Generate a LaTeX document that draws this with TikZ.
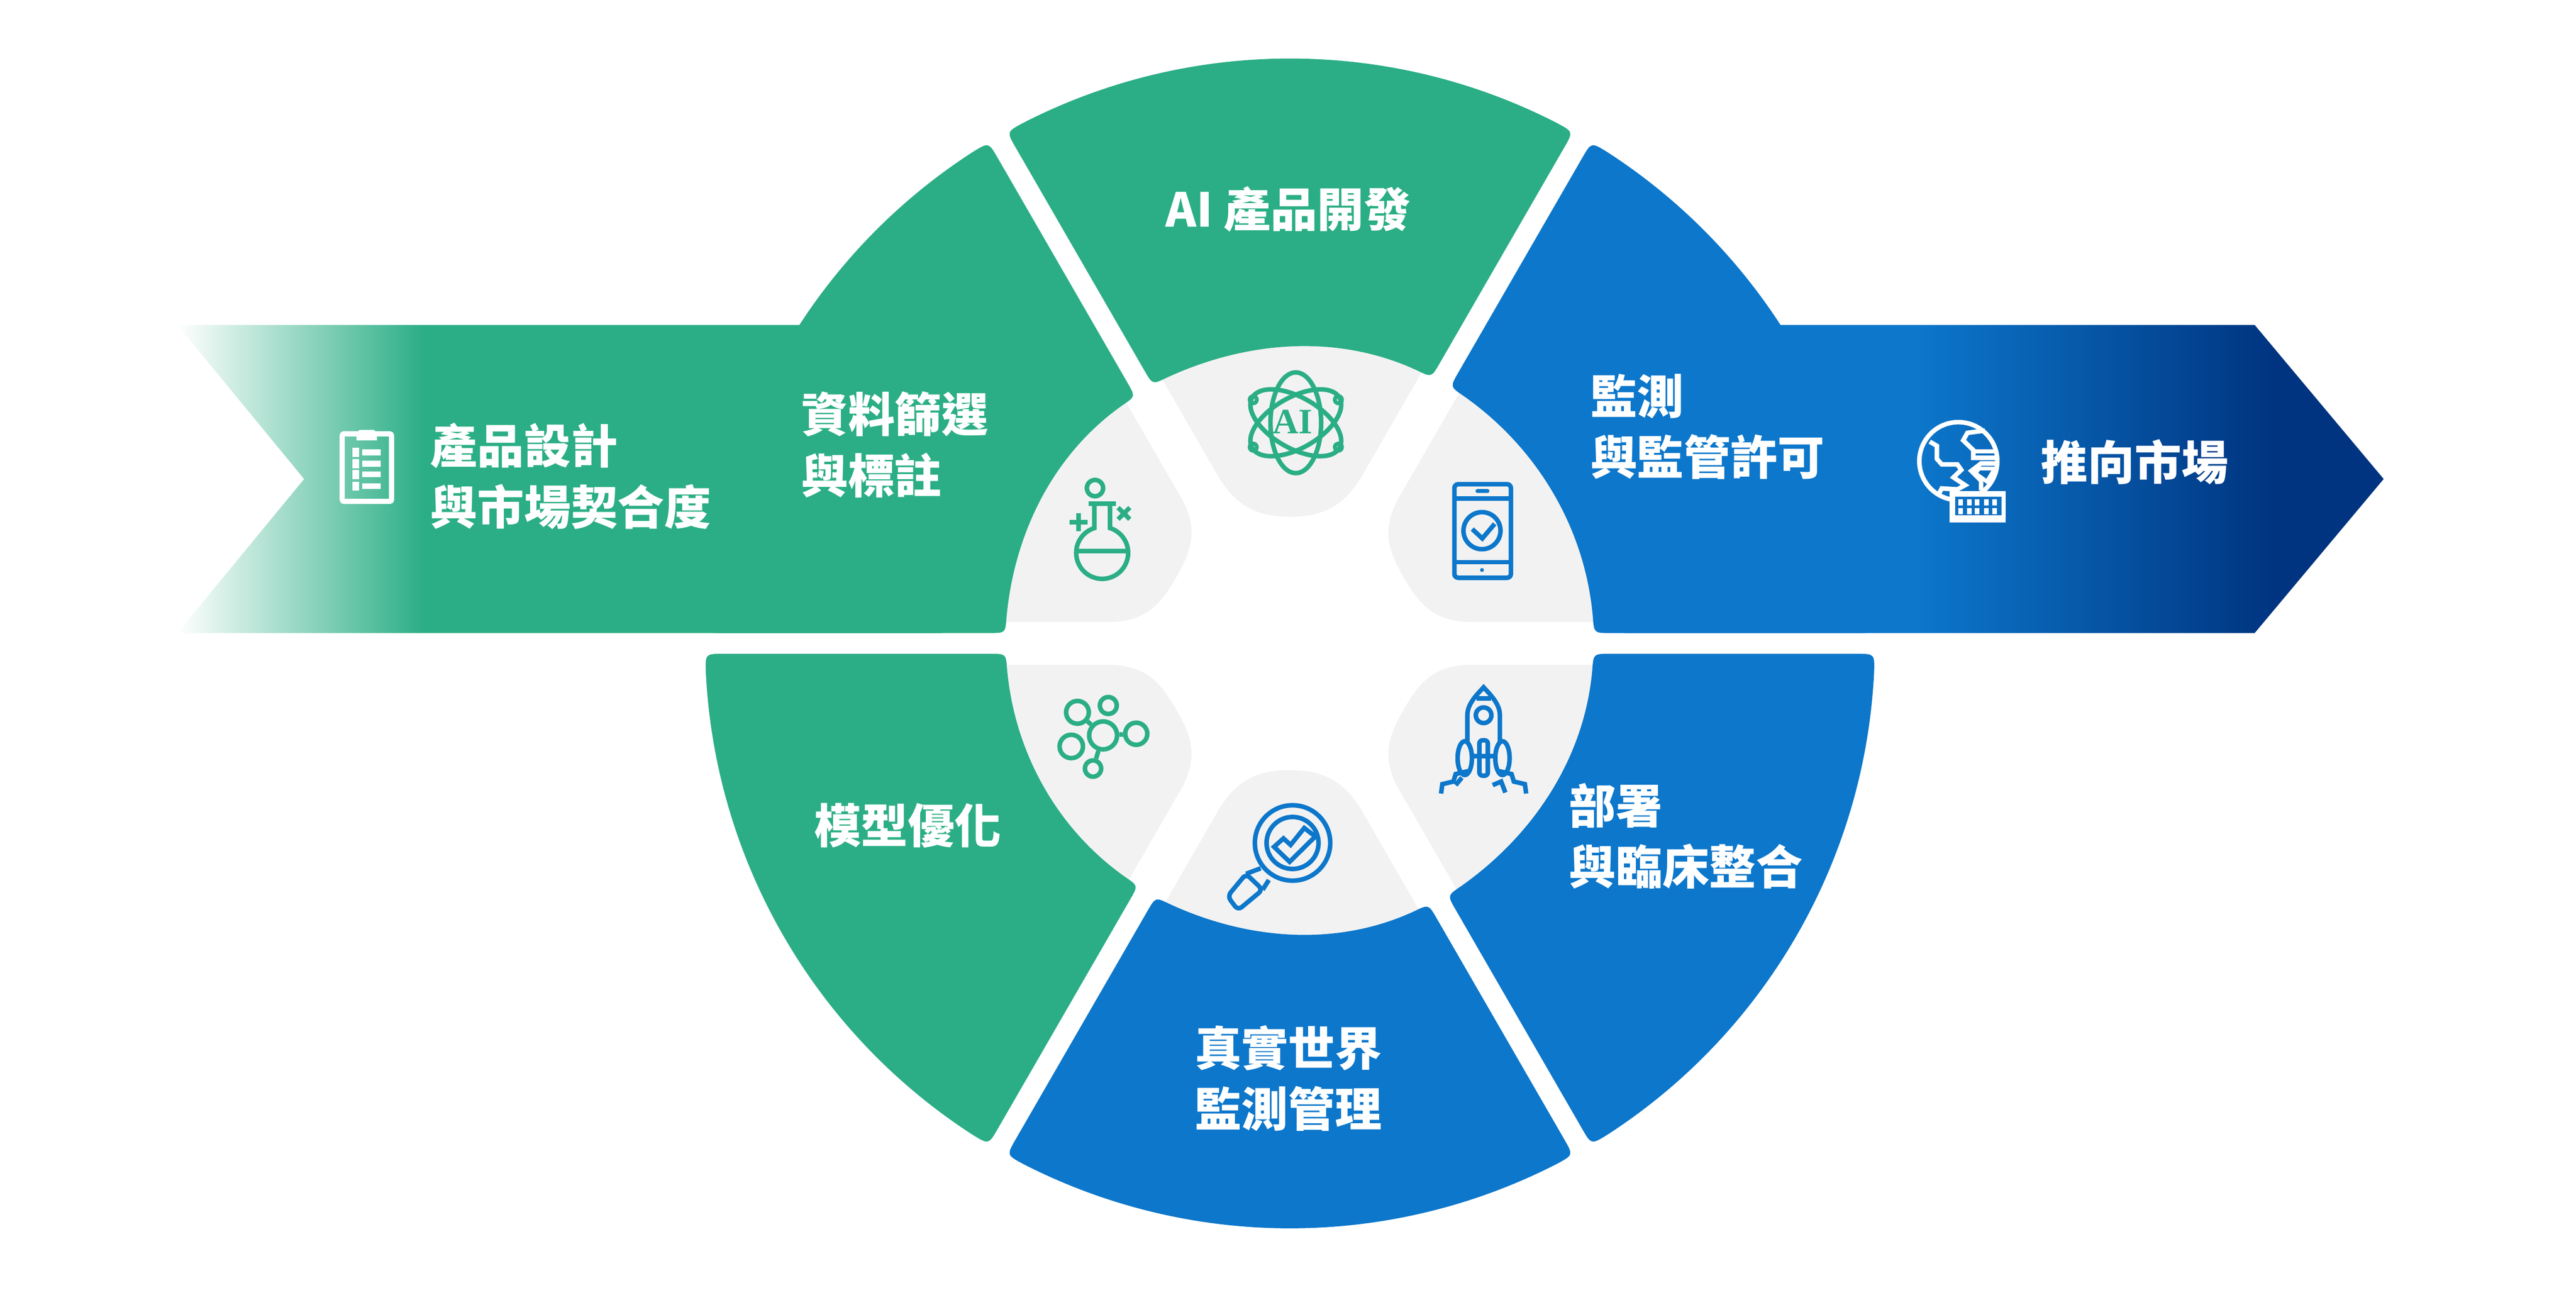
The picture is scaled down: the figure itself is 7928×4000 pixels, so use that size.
\documentclass[tikz,border=0pt]{standalone}
\usepackage{fontspec}
\setmainfont{Noto Sans CJK TC}
\newfontfamily\iconserif{Liberation Serif}
\definecolor{sectorgreen}{HTML}{2BAE85}
\definecolor{sectorblue}{HTML}{0C77CB}
\definecolor{banddark}{HTML}{003480}
\definecolor{blobgray}{HTML}{F2F2F2}
\pgfdeclarehorizontalshading{bandleft}{100bp}{color(0bp)=(white); color(25bp)=(white); color(41.1bp)=(sectorgreen); color(100bp)=(sectorgreen)}
\pgfdeclarehorizontalshading{bandright}{100bp}{color(0bp)=(sectorblue); color(44.3bp)=(sectorblue); color(67.8bp)=(banddark); color(100bp)=(banddark)}
\tikzset{
  lbl/.style={text=white, inner sep=0pt, align=left, font=\fontsize{14.4pt}{18.8pt}\selectfont\bfseries},
  lblmid/.style={lbl, align=center},
  icongreen/.style={draw=sectorgreen, line width=1.4pt},
  iconblue/.style={draw=sectorblue, line width=1.4pt},
  iconwhite/.style={draw=white, line width=1.4pt},
  atom/.style={circle, icongreen, inner sep=0pt, minimum size=#1},
}
% one ring sector, pointing up before it is turned
\newcommand{\ringsector}[2]{
  \pgfmathsetmacro\rinR{905+30*cos(65+#1)+10*sin(65+#1)}
  \pgfmathsetmacro\rinL{905+30*cos(115+#1)+10*sin(115+#1)}
  \fill[#2, rotate=#1] (-844.8,1527.2) .. controls (-872,1574.5) .. (117.1:1800)
    arc[start angle=117.1, end angle=62.9, radius=1800]
    .. controls (872,1574.5) .. (844.8,1527.2)
    -- ({0.5*(\rinR+50)-27.7},{0.866*(\rinR+50)+16})
    .. controls ({0.5*\rinR-27.7},{0.866*\rinR+16}) .. (65:\rinR)
    .. controls (81.47:{1.0428*\rinR}) and (98.53:{1.0428*\rinL}) .. (115:\rinL)
    .. controls ({-0.5*\rinL+27.7},{0.866*\rinL+16}) .. ({-0.5*(\rinL+50)+27.7},{0.866*(\rinL+50)+16}) -- cycle;
}
% grey tongue inside a sector
\newcommand{\innerblob}[2]{
  \fill[blobgray, rotate=#1] (116.06:960) arc[start angle=116.06, end angle=63.94, radius=960]
    -- (223,518) .. controls (163,414) and (90,#2) .. (0,#2)
    .. controls (-90,#2) and (-163,414) .. (-223,518) -- cycle;
}
\begin{document}
\begin{tikzpicture}[x=0.1pt, y=-0.1pt]

  \useasboundingbox (0,0) rectangle (7928,4000);
  \coordinate (ctr) at (3970,1980);

  % Define ring
  \begin{scope}[shift={(ctr)}, y=0.1pt]
    \foreach \ang/\apex in {0/390,60/405,120/405,180/390,240/405,300/405} {\innerblob{\ang}{\apex}}
  \end{scope}
  \shade[shading=bandleft] (546,1000) -- (2900,1000) -- (2900,1948) -- (546,1948) -- (936,1474) -- cycle;
  \shade[shading=bandright] (5000,1000) -- (6939,1000) -- (7336,1474) -- (6939,1948) -- (5000,1948) -- cycle;
  \begin{scope}[shift={(ctr)}, y=0.1pt]
    \ringsector{0}{sectorgreen}
    \ringsector{60}{sectorgreen}
    \ringsector{120}{sectorgreen}
    \ringsector{180}{sectorblue}
    \ringsector{240}{sectorblue}
    \ringsector{300}{sectorblue}
  \end{scope}

  % Define labels
  \node[lblmid] (develop) at (3965,644) {AI 產品開發};
  \node[lbl, anchor=west] (screen) at (2464,1368) {資料篩選\\與標註};
  \node[lbl, anchor=west] (design) at (1323,1465) {產品設計\\與市場契合度};
  \node[lbl, anchor=west] (approve) at (4893,1313) {監測\\與監管許可};
  \node[lbl, anchor=west] (market) at (6280,1422) {推向市場};
  \node[lblmid] (tune) at (2794,2540) {模型優化};
  \node[lbl, anchor=west] (deploy) at (4827,2573) {部署\\與臨床整合};
  \node[lblmid] (realworld) at (3965,3318) {真實世界\\監測管理};

  % clipboard
  \draw[iconwhite, line width=1.6pt, rounded corners=0.6pt] (1053,1335) rectangle (1205,1543);
  \fill[white] (1097,1330) -- (1107,1323) -- (1150,1323) -- (1160,1330) -- (1160,1355) -- (1097,1355) -- cycle;
  \foreach \rowy in {1392,1427,1460,1496} {
    \fill[white] (1085,\rowy-14) rectangle (1105,\rowy+14);
    \fill[white] (1114,\rowy-9) rectangle (1172,\rowy+9);
  }

  % atom
  \draw[icongreen] (3988,1301) ellipse [x radius=78, y radius=155];
  \draw[icongreen, rotate around={60:(3988,1301)}] (3988,1301) ellipse [x radius=78, y radius=155];
  \draw[icongreen, rotate around={-60:(3988,1301)}] (3988,1301) ellipse [x radius=78, y radius=155];
  \foreach \dotx/\doty in {3857/1230,4119/1230,3857/1376,4119/1376} {
    \draw[icongreen, line width=1.2pt] (\dotx,\doty) circle [radius=11];
  }
  \node[text=sectorgreen, inner sep=0pt, font=\iconserif\fontsize{11pt}{11pt}\selectfont\bfseries] (atomai) at (3978,1298) {AI};

  % flask
  \draw[icongreen] (3370,1502) circle [radius=25];
  \draw[icongreen] (3351,1550) -- (3434,1550);
  \draw[icongreen] (3368,1550) -- (3368,1625) arc[start angle=-107.5, end angle=-432.5, radius=80] -- (3416,1550);
  \draw[icongreen] (3312,1696) -- (3472,1696);
  \draw[icongreen] (3319,1580) -- (3319,1635) (3291,1607) -- (3347,1607);
  \draw[icongreen] (3441,1562) -- (3477,1598) (3441,1598) -- (3477,1562);

  % phone
  \draw[iconblue, rounded corners=1.2pt] (4476,1490) rectangle (4650,1778);
  \draw[iconblue] (4476,1534) -- (4650,1534) (4476,1730) -- (4650,1730);
  \fill[sectorblue, rounded corners=0.6pt] (4541,1505) rectangle (4584,1517);
  \fill[sectorblue] (4561,1754) circle [radius=6];
  \draw[iconblue] (4561,1633) circle [radius=57];
  \draw[iconblue] (4531,1628) -- (4562,1657) -- (4600,1612);

  % molecule
  \node[atom=8.6pt] (hub) at (3395,2263) {};
  \node[atom=7pt] (upperleft) at (3316,2192) {};
  \node[atom=5.2pt] (upper) at (3411,2171) {};
  \node[atom=6.8pt] (rightatom) at (3497,2258) {};
  \node[atom=7.2pt] (lowerleft) at (3297,2297) {};
  \node[atom=5pt] (lower) at (3364,2365) {};
  \draw[icongreen] (hub) -- (upperleft);
  \draw[icongreen] (hub) -- (rightatom);
  \draw[icongreen] (hub) -- (lower);

  % rocket
  \draw[iconblue] (4516,2285) -- (4516,2200) .. controls (4516,2165) and (4548,2135) .. (4566,2115)
    .. controls (4584,2135) and (4616,2165) .. (4616,2200) -- (4616,2285);
  \draw[iconblue] (4544,2149) -- (4588,2149);
  \draw[iconblue] (4566,2201) circle [radius=24];
  \draw[iconblue] (4508,2333) ellipse [x radius=22, y radius=52];
  \draw[iconblue] (4624,2333) ellipse [x radius=22, y radius=52];
  \draw[iconblue, rounded corners=1pt] (4553,2278) rectangle (4579,2387);
  \draw[iconblue] (4530,2327) -- (4602,2327);
  \draw[iconblue] (4435,2442) -- (4439,2413) -- (4473,2405) -- (4480,2382) -- (4518,2373);
  \draw[iconblue] (4697,2442) -- (4693,2413) -- (4659,2405) -- (4652,2382) -- (4614,2373);
  \draw[iconblue] (4499,2393) -- (4480,2416);
  \draw[iconblue] (4594,2416) -- (4620,2405) -- (4633,2439);

  % magnifier
  \draw[iconblue] (3978,2594) circle [radius=116];
  \draw[iconblue] (3978,2594) circle [radius=80];
  \draw[iconblue, line join=miter] (3921,2606) -- (3950,2580) -- (3972,2600) -- (4014,2548) -- (4048,2574) -- (3969,2652) -- cycle;
  \draw[iconblue] (3880,2672) -- (3835,2689) (3905,2708) -- (3886,2738);
  \draw[iconblue, rounded corners=1.5pt] (3835,2689) -- (3778,2758) -- (3810,2801) -- (3886,2738) -- cycle;

  % globe
  \draw[iconwhite] (6027,1419) circle [radius=120];
  \draw[iconwhite] (5939,1359) -- (5961,1372) -- (5961,1412) -- (5976,1429) -- (6024,1429) -- (6036,1446) -- (6012,1469) -- (6048,1493) -- (6024,1506) -- (5976,1503) -- (5964,1526);
  \draw[iconwhite] (6109,1325) -- (6055,1332) -- (6042,1355) -- (6073,1385) -- (6073,1409) -- (6145,1409);
  \draw[iconwhite] (6079,1389) -- (6139,1389);
  \draw[iconwhite] (6145,1426) -- (6097,1426) -- (6067,1449) -- (6097,1479) -- (6097,1509);
  \draw[iconwhite, line width=1.2pt] (6139,1442) -- (6091,1442) -- (6079,1456) -- (6115,1482) -- cycle;
  % keyboard
  \fill[white] (6000,1511) rectangle (6172,1608);
  \fill[sectorblue!90!banddark] (6018,1529) rectangle (6160,1585);
  \foreach \keyx in {6034,6061,6085,6113,6139} {
    \foreach \keyy in {1546,1573} {
      \fill[white] (\keyx-7,\keyy-9) rectangle (\keyx+7,\keyy+9);
    }
  }

\end{tikzpicture}
\end{document}
